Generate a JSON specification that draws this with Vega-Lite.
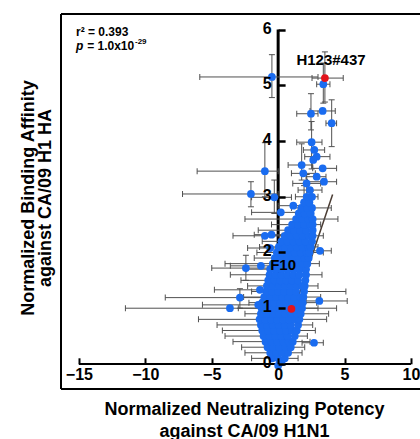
{
  "$schema": "https://vega.github.io/schema/vega-lite/v6.json",
  "width": 359,
  "height": 375,
  "autosize": "none",
  "padding": {"left": 61, "top": 14, "right": 0, "bottom": 50},
  "background": "white",
  "view": {"stroke": null},
  "config": {"font": "Liberation Sans"},
  "datasets": {
    "pts": [
      {"x":0,"y":-0.03},{"x":0.25,"y":0.03},
      {"x":-0.45,"y":0.1,"xl":-2,"xh":0.6},{"x":0,"y":0.1},{"x":0.5,"y":0.1,"xl":-0.3,"xh":1.5},
      {"x":-0.6,"y":0.2,"xl":-2.5,"xh":0.4},{"x":-0.15,"y":0.2},{"x":0.3,"y":0.2},{"x":0.75,"y":0.2,"xl":0,"xh":1.8},
      {"x":-0.8,"y":0.3,"xl":-2.75,"xh":0.3},{"x":-0.35,"y":0.3},{"x":0.1,"y":0.3},{"x":0.55,"y":0.3},{"x":0.95,"y":0.3,"xl":0.2,"xh":2},
      {"x":-0.95,"y":0.4,"xl":-3.4,"xh":0.6},{"x":-0.5,"y":0.4},{"x":-0.05,"y":0.4},{"x":0.4,"y":0.4},{"x":0.8,"y":0.4},{"x":1.1,"y":0.4,"xl":0.3,"xh":2.4},
      {"x":-1.1,"y":0.5,"xl":-4,"xh":0.8},{"x":-0.65,"y":0.5},{"x":-0.2,"y":0.5},{"x":0.25,"y":0.5},{"x":0.7,"y":0.5},{"x":1.25,"y":0.5,"xl":0.4,"xh":2.2},
      {"x":-1.2,"y":0.6,"xl":-4.2,"xh":0.5},{"x":-0.75,"y":0.6},{"x":-0.3,"y":0.6},{"x":0.15,"y":0.6},{"x":0.6,"y":0.6},{"x":1.05,"y":0.6},{"x":1.4,"y":0.6,"xl":0.5,"xh":2.8},
      {"x":-1.3,"y":0.7,"xl":-4.6,"xh":0.4},{"x":-0.85,"y":0.7},{"x":-0.4,"y":0.7},{"x":0.05,"y":0.7},{"x":0.5,"y":0.7},{"x":0.95,"y":0.7},{"x":1.5,"y":0.7,"xl":0.6,"xh":2.6},
      {"x":-1.4,"y":0.8,"xl":-6,"xh":1},{"x":-0.95,"y":0.8},{"x":-0.5,"y":0.8},{"x":-0.05,"y":0.8},{"x":0.4,"y":0.8},{"x":0.85,"y":0.8},{"x":1.3,"y":0.8},{"x":1.6,"y":0.8,"xl":0.5,"xh":3.65},
      {"x":-1.3,"y":0.9,"xl":-2.5,"xh":0.2},{"x":-0.85,"y":0.9},{"x":-0.4,"y":0.9},{"x":0.05,"y":0.9},{"x":0.5,"y":0.9},{"x":0.95,"y":0.9},{"x":1.4,"y":0.9},{"x":1.7,"y":0.9,"xl":0.4,"xh":3.8},
      {"x":-1.25,"y":1.0,"xl":-3,"xh":0.5},{"x":-0.8,"y":1.0},{"x":-0.35,"y":1.0},{"x":0.1,"y":1.0},{"x":0.55,"y":1.0},{"x":1.45,"y":1.0},{"x":1.8,"y":1.0,"xl":0.7,"xh":3},
      {"x":-1.2,"y":1.1,"xl":-2.2,"xh":0},{"x":-0.75,"y":1.1},{"x":-0.3,"y":1.1},{"x":0.15,"y":1.1},{"x":0.6,"y":1.1},{"x":1.05,"y":1.1},{"x":1.5,"y":1.1},{"x":1.85,"y":1.1,"xl":0.9,"xh":2.9},
      {"x":-1.05,"y":1.2,"xl":-2.6,"xh":0.2},{"x":-0.6,"y":1.2},{"x":-0.15,"y":1.2},{"x":0.3,"y":1.2},{"x":0.75,"y":1.2},{"x":1.2,"y":1.2},{"x":1.65,"y":1.2},{"x":1.9,"y":1.2,"xl":0.8,"xh":3.2},
      {"x":-0.9,"y":1.3,"xl":-2,"xh":0.3},{"x":-0.45,"y":1.3},{"x":0,"y":1.3},{"x":0.45,"y":1.3},{"x":0.9,"y":1.3},{"x":1.35,"y":1.3,"xl":-0.5,"xh":5.1},{"x":1.95,"y":1.3},
      {"x":-0.85,"y":1.4,"xl":-2.3,"xh":0.4},{"x":-0.4,"y":1.4},{"x":0.05,"y":1.4},{"x":0.5,"y":1.4},{"x":0.95,"y":1.4},{"x":1.4,"y":1.4},{"x":1.8,"y":1.4},{"x":2,"y":1.4,"xl":1,"xh":3},
      {"x":-0.75,"y":1.5,"xl":-2.8,"xh":0.5},{"x":-0.3,"y":1.5},{"x":0.15,"y":1.5},{"x":0.6,"y":1.5},{"x":1.05,"y":1.5},{"x":1.5,"y":1.5},{"x":2.05,"y":1.5},
      {"x":-0.65,"y":1.6,"xl":-3.6,"xh":0.6},{"x":-0.2,"y":1.6},{"x":0.25,"y":1.6},{"x":0.7,"y":1.6},{"x":1.15,"y":1.6},{"x":1.6,"y":1.6},{"x":2.1,"y":1.6,"xl":1,"xh":3.3},
      {"x":-0.6,"y":1.7,"xl":-2.4,"xh":0.5},{"x":-0.15,"y":1.7},{"x":0.3,"y":1.7},{"x":0.75,"y":1.7},{"x":1.2,"y":1.7},{"x":1.65,"y":1.7},{"x":2.1,"y":1.7},
      {"x":-0.4,"y":1.8,"xl":-4,"xh":1},{"x":0.05,"y":1.8},{"x":0.5,"y":1.8},{"x":0.95,"y":1.8},{"x":1.4,"y":1.8},{"x":1.85,"y":1.8},{"x":2.2,"y":1.8,"xl":1.2,"xh":3.1},
      {"x":-0.25,"y":1.9,"xl":-1.8,"xh":1},{"x":0.2,"y":1.9},{"x":0.65,"y":1.9},{"x":1.1,"y":1.9},{"x":1.55,"y":1.9},{"x":2,"y":1.9},{"x":2.3,"y":1.9},
      {"x":-0.1,"y":2.0,"xl":-1.6,"xh":1.2},{"x":0.35,"y":2.0},{"x":0.8,"y":2.0},{"x":1.25,"y":2.0},{"x":1.7,"y":2.0},{"x":2.15,"y":2.0},{"x":2.35,"y":2.0,"xl":1.3,"xh":3.4},
      {"x":0.05,"y":2.1,"xl":-1.4,"xh":1.3},{"x":0.5,"y":2.1},{"x":0.95,"y":2.1},{"x":1.4,"y":2.1},{"x":1.85,"y":2.1},{"x":2.3,"y":2.1},{"x":2.45,"y":2.1,"xl":1.8,"xh":3},
      {"x":0.25,"y":2.2,"xl":-1.2,"xh":1.5},{"x":0.7,"y":2.2},{"x":1.15,"y":2.2},{"x":1.6,"y":2.2},{"x":2.05,"y":2.2},{"x":2.55,"y":2.2},
      {"x":0.5,"y":2.3,"xl":-1,"xh":1.8},{"x":0.95,"y":2.3},{"x":1.4,"y":2.3},{"x":1.85,"y":2.3},{"x":2.3,"y":2.3},{"x":2.6,"y":2.3,"xl":1.8,"xh":3.4},
      {"x":0.75,"y":2.4,"xl":-1.5,"xh":2},{"x":1.2,"y":2.4},{"x":1.65,"y":2.4},{"x":2.1,"y":2.4},{"x":2.6,"y":2.4},
      {"x":1.05,"y":2.5,"xl":-0.5,"xh":2},{"x":1.5,"y":2.5},{"x":1.95,"y":2.5},{"x":2.4,"y":2.5},{"x":2.6,"y":2.5,"xl":2,"xh":3.2},
      {"x":1.35,"y":2.6,"xl":-2.5,"xh":4.5},{"x":1.8,"y":2.6},{"x":2.25,"y":2.6},{"x":2.6,"y":2.6},
      {"x":1.55,"y":2.7},{"x":2,"y":2.7},{"x":2.45,"y":2.7,"yl":2.4,"yh":3.1},
      {"x":1.75,"y":2.8},{"x":2.2,"y":2.8},{"x":2.55,"y":2.8,"xl":1,"xh":4},
      {"x":1.95,"y":2.9,"yl":2.6,"yh":3.2},{"x":2.35,"y":2.9},
      {"x":2.15,"y":3.0,"xl":1.3,"xh":3,"yl":2.7,"yh":3.4},{"x":2.55,"y":3.0},
      {"x":-0.47,"y":5.15,"xl":-5.9,"xh":3,"yl":4.78,"yh":5.55},
      {"x":3.4,"y":5.02,"xl":2.9,"xh":3.9,"yl":4.68,"yh":5.4},
      {"x":2.47,"y":4.49,"xl":1.4,"xh":3,"yl":4.2,"yh":4.85},
      {"x":3.35,"y":4.54,"xl":2.4,"xh":4.3},
      {"x":4.03,"y":4.32,"xl":3.6,"xh":4.4,"yl":3.9,"yh":4.74},
      {"x":2.52,"y":3.98,"xl":1.4,"xh":3.3,"yl":3.5,"yh":4.35},
      {"x":2.72,"y":3.84,"xl":1.9,"xh":3.5},
      {"x":2.9,"y":3.72,"xl":2,"xh":3.9},
      {"x":2.64,"y":3.66},
      {"x":1.77,"y":3.57,"xl":0.75,"xh":2.6,"yl":3.3,"yh":3.95},
      {"x":3.35,"y":3.51,"xl":2.6,"xh":4.4},
      {"x":-1,"y":3.46,"xl":-6.1,"xh":0,"yl":3,"yh":3.97},
      {"x":1.89,"y":3.42,"xl":1,"xh":2.8},
      {"x":2.9,"y":3.36,"xl":2.1,"xh":3.6},
      {"x":3.45,"y":3.27,"xl":2.2,"xh":4.4},
      {"x":2.14,"y":3.24,"xl":1.1,"xh":3.2},
      {"x":2.39,"y":3.12,"xl":1.5,"xh":3.3},
      {"x":-2.05,"y":3.05,"xl":-7.2,"xh":0,"yl":2.82,"yh":3.27},
      {"x":-0.29,"y":2.99,"xl":-2,"xh":1,"yl":2.7,"yh":3.3},
      {"x":1.14,"y":2.84,"xl":0,"xh":2.2},
      {"x":0.2,"y":2.72,"xl":-2,"xh":1.5},
      {"x":-1,"y":2.3,"xl":-3.4,"xh":0.3},
      {"x":-0.5,"y":2.32,"xl":-1.8,"xh":0.8},
      {"x":-0.6,"y":2.08,"xl":-2.3,"xh":0.9},
      {"x":3.15,"y":2.03,"xl":2.3,"xh":4},
      {"x":-2.43,"y":1.72,"xl":-5,"xh":-0.6,"yl":1.5,"yh":1.95},
      {"x":-1.3,"y":1.76,"xl":-3.6,"xh":0.3},
      {"x":-1.37,"y":1.33,"xl":-4.8,"xh":1},
      {"x":-2.88,"y":1.19,"xl":-8.5,"xh":0.6,"yl":1,"yh":1.35},
      {"x":-3.63,"y":1.0,"xl":-11.5,"xh":4.4},
      {"x":3.1,"y":1.13,"xl":2.1,"xh":5.2},
      {"x":-1.5,"y":1.06,"xl":-5.7,"xh":1},
      {"x":2.7,"y":0.38,"xl":1.8,"xh":3.4},
      {"x":3.52,"y":5.13,"xl":2.55,"xh":4.9,"yl":4.7,"yh":5.6,"c":"r"},
      {"x":1.0,"y":0.99,"c":"r"}
    ],
    "reg": [{"rx":0.3,"ry":0.35},{"rx":4.1,"ry":3.04}]
  },
  "layer": [
    {
      "data": {"name": "pts"},
      "mark": {"type": "circle", "size": 60, "opacity": 0},
      "encoding": {
        "x": {
          "field": "x", "type": "quantitative",
          "scale": {"domain": [-16.35, 10.68], "nice": false, "zero": false},
          "axis": {
            "values": [-15, -10, -5, 0, 5, 10], "format": "d", "offset": -25.2, "domain": false, "grid": false,
            "tickSize": -6, "tickWidth": 2, "tickColor": "black",
            "labelPadding": 9, "labelFontSize": 16, "labelFontWeight": "bold", "labelColor": "black",
            "labelFlush": false, "labelOverlap": false,
            "title": ["Normalized Neutralizing Potency", "against CA/09 H1N1"],
            "titleFontSize": 18, "titleFontWeight": "bold", "titleColor": "black",
            "titleX": 183, "titleY": 50.2, "titleBaseline": "alphabetic", "titleAlign": "center", "titleLineHeight": 22,
            "zindex": 1
          }
        },
        "y": {
          "field": "y", "type": "quantitative",
          "scale": {"domain": [-0.45, 6.28], "nice": false, "zero": false},
          "axis": {
            "values": [0, 1, 2, 3, 4, 5, 6], "format": "d", "offset": -217.1, "domain": false, "grid": false,
            "tickSize": -7, "tickWidth": 2.5, "tickColor": "black",
            "labelPadding": 14, "labelFontSize": 16, "labelFontWeight": "bold", "labelColor": "black",
            "labelFlush": false, "labelOverlap": false, "labelOffset": -1.5,
            "title": ["Normalized Binding Affinity", "against CA/09 H1 HA"],
            "titleFontSize": 18, "titleFontWeight": "bold", "titleColor": "black",
            "titleX": -245.1, "titleY": 183.5, "titleAngle": 270, "titleBaseline": "alphabetic", "titleAlign": "center", "titleLineHeight": 17,
            "zindex": 1
          }
        }
      }
    },
    {
      "data": {"values": [{}]},
      "mark": {"type": "rule", "stroke": "black", "strokeWidth": 2},
      "encoding": {
        "x": {"datum": -16.35, "type": "quantitative"},
        "y": {"datum": -0.45, "type": "quantitative"},
        "y2": {"datum": 6.28}
      }
    },
    {
      "data": {"values": [{}]},
      "mark": {"type": "rule", "stroke": "black", "strokeWidth": 2},
      "encoding": {
        "x": {"datum": -16.35, "type": "quantitative"},
        "x2": {"datum": 12},
        "y": {"datum": 6.28, "type": "quantitative"}
      }
    },
    {
      "data": {"values": [{}]},
      "mark": {"type": "rule", "stroke": "black", "strokeWidth": 2},
      "encoding": {
        "x": {"datum": -16.35, "type": "quantitative"},
        "x2": {"datum": 12},
        "y": {"datum": -0.45, "type": "quantitative"}
      }
    },
    {
      "data": {"values": [{}]},
      "mark": {"type": "rule", "stroke": "black", "strokeWidth": 2},
      "encoding": {
        "x": {"datum": -15, "type": "quantitative"},
        "x2": {"datum": 10},
        "y": {"datum": 0, "type": "quantitative"}
      }
    },
    {
      "data": {"values": [{}]},
      "mark": {"type": "rule", "stroke": "black", "strokeWidth": 3},
      "encoding": {
        "x": {"datum": 0, "type": "quantitative"},
        "y": {"datum": 0, "type": "quantitative"},
        "y2": {"datum": 6}
      }
    },
    {
      "data": {"name": "reg"},
      "mark": {"type": "line", "stroke": "#4a3c33", "strokeWidth": 1.5},
      "encoding": {
        "x": {"field": "rx", "type": "quantitative"},
        "y": {"field": "ry", "type": "quantitative"}
      }
    },
    {
      "data": {"name": "pts"},
      "transform": [{"filter": "isValid(datum.xl)"}],
      "mark": {"type": "rule", "stroke": "#505050", "strokeWidth": 1},
      "encoding": {
        "x": {"field": "xl", "type": "quantitative"},
        "x2": {"field": "xh"},
        "y": {"field": "y", "type": "quantitative"}
      }
    },
    {
      "data": {"name": "pts"},
      "transform": [{"filter": "isValid(datum.xl)"}],
      "mark": {"type": "tick", "orient": "vertical", "size": 6, "thickness": 1, "color": "#505050", "opacity": 1},
      "encoding": {
        "x": {"field": "xl", "type": "quantitative"},
        "y": {"field": "y", "type": "quantitative"}
      }
    },
    {
      "data": {"name": "pts"},
      "transform": [{"filter": "isValid(datum.xh)"}],
      "mark": {"type": "tick", "orient": "vertical", "size": 6, "thickness": 1, "color": "#505050", "opacity": 1},
      "encoding": {
        "x": {"field": "xh", "type": "quantitative"},
        "y": {"field": "y", "type": "quantitative"}
      }
    },
    {
      "data": {"name": "pts"},
      "transform": [{"filter": "isValid(datum.yl)"}],
      "mark": {"type": "rule", "stroke": "#505050", "strokeWidth": 1},
      "encoding": {
        "x": {"field": "x", "type": "quantitative"},
        "y": {"field": "yl", "type": "quantitative"},
        "y2": {"field": "yh"}
      }
    },
    {
      "data": {"name": "pts"},
      "transform": [{"filter": "isValid(datum.yl)"}],
      "mark": {"type": "tick", "orient": "horizontal", "size": 6, "thickness": 1, "color": "#505050", "opacity": 1},
      "encoding": {
        "x": {"field": "x", "type": "quantitative"},
        "y": {"field": "yl", "type": "quantitative"}
      }
    },
    {
      "data": {"name": "pts"},
      "transform": [{"filter": "isValid(datum.yh)"}],
      "mark": {"type": "tick", "orient": "horizontal", "size": 6, "thickness": 1, "color": "#505050", "opacity": 1},
      "encoding": {
        "x": {"field": "x", "type": "quantitative"},
        "y": {"field": "yh", "type": "quantitative"}
      }
    },
    {
      "data": {"name": "pts"},
      "mark": {"type": "circle", "size": 60, "opacity": 1},
      "encoding": {
        "x": {"field": "x", "type": "quantitative"},
        "y": {"field": "y", "type": "quantitative"},
        "color": {"condition": {"test": "datum.c === 'r'", "value": "#e3141c"}, "value": "#1a6cf0"}
      }
    },
    {
      "data": {"values": [{}]},
      "mark": {"type": "text", "text": "H123#437", "fontSize": 15, "fontWeight": "bold", "align": "center", "baseline": "middle", "color": "black"},
      "encoding": {"x": {"datum": 3.98, "type": "quantitative"}, "y": {"datum": 5.46, "type": "quantitative"}}
    },
    {
      "data": {"values": [{}]},
      "mark": {"type": "text", "text": "F10", "fontSize": 15, "fontWeight": "bold", "align": "center", "baseline": "middle", "color": "black"},
      "encoding": {"x": {"datum": 0.37, "type": "quantitative"}, "y": {"datum": 1.774, "type": "quantitative"}}
    },
    {
      "data": {"values": [{}]},
      "mark": {"type": "text", "text": "r² = 0.393", "fontSize": 12, "fontWeight": "bold", "align": "left", "baseline": "alphabetic", "color": "black"},
      "encoding": {"x": {"datum": -15.22, "type": "quantitative"}, "y": {"datum": 5.885, "type": "quantitative"}}
    },
    {
      "data": {"values": [{}]},
      "mark": {"type": "text", "text": "p", "fontSize": 12, "fontWeight": "bold", "fontStyle": "italic", "align": "left", "baseline": "alphabetic", "color": "black"},
      "encoding": {"x": {"datum": -15.22, "type": "quantitative"}, "y": {"datum": 5.634, "type": "quantitative"}}
    },
    {
      "data": {"values": [{}]},
      "mark": {"type": "text", "text": "= 1.0x10", "fontSize": 12, "fontWeight": "bold", "align": "left", "baseline": "alphabetic", "color": "black"},
      "encoding": {"x": {"datum": -14.38, "type": "quantitative"}, "y": {"datum": 5.634, "type": "quantitative"}}
    },
    {
      "data": {"values": [{}]},
      "mark": {"type": "text", "text": "-29", "fontSize": 8, "fontWeight": "bold", "align": "left", "baseline": "alphabetic", "color": "black"},
      "encoding": {"x": {"datum": -10.78, "type": "quantitative"}, "y": {"datum": 5.74, "type": "quantitative"}}
    }
  ]
}
